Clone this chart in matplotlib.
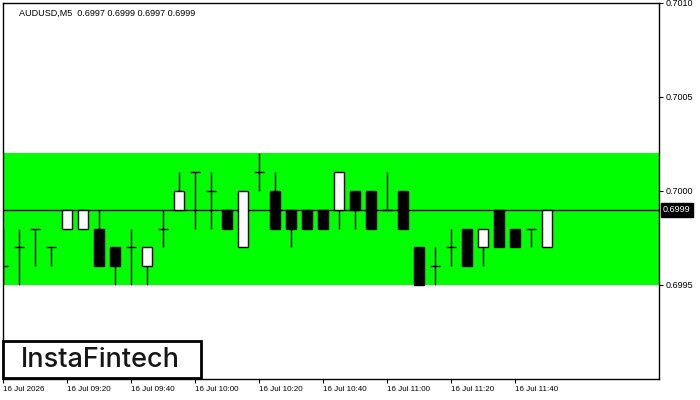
import matplotlib
matplotlib.use("Agg")
import matplotlib.pyplot as plt
import matplotlib.transforms as mtransforms
from matplotlib.patches import Rectangle

# AUDUSD M5 candles
opens = [0.6996, 0.6997, 0.6998, 0.6997, 0.6998, 0.6998, 0.6998, 0.6997, 0.6997, 0.6996,
         0.6998, 0.6999, 0.7001, 0.7000, 0.6999, 0.6997, 0.7001, 0.7000, 0.6999, 0.6999,
         0.6999, 0.6999, 0.7000, 0.7000, 0.6999, 0.7000, 0.6997, 0.6996, 0.6997, 0.6998,
         0.6997, 0.6999, 0.6998, 0.6998, 0.6997]
highs = [0.6998, 0.6998, 0.6998, 0.6997, 0.6999, 0.6999, 0.6999, 0.6997, 0.6998, 0.6997,
         0.6999, 0.7001, 0.7001, 0.7001, 0.6999, 0.7000, 0.7002, 0.7001, 0.6999, 0.6999,
         0.6999, 0.7001, 0.7000, 0.7000, 0.7001, 0.7000, 0.6997, 0.6997, 0.6998, 0.6998,
         0.6998, 0.6999, 0.6998, 0.6998, 0.6999]
lows = [0.6995, 0.6995, 0.6996, 0.6996, 0.6998, 0.6998, 0.6996, 0.6995, 0.6995, 0.6995,
        0.6997, 0.6999, 0.6998, 0.6998, 0.6998, 0.6997, 0.7000, 0.6998, 0.6997, 0.6998,
        0.6998, 0.6998, 0.6998, 0.6998, 0.6999, 0.6998, 0.6995, 0.6995, 0.6996, 0.6996,
        0.6996, 0.6997, 0.6997, 0.6997, 0.6997]
closes = [0.6996, 0.6997, 0.6998, 0.6997, 0.6999, 0.6999, 0.6996, 0.6996, 0.6997, 0.6997,
          0.6998, 0.7000, 0.7001, 0.7000, 0.6998, 0.7000, 0.7001, 0.6998, 0.6998, 0.6998,
          0.6998, 0.7001, 0.6999, 0.6998, 0.6999, 0.6998, 0.6995, 0.6996, 0.6997, 0.6996,
          0.6998, 0.6997, 0.6997, 0.6998, 0.6999]

zone_low = 0.6995
zone_high = 0.7002
last_price = 0.6999

y_ticks = [0.6995, 0.7000, 0.7005, 0.7010]
x_tick_idx = [0, 4, 8, 12, 16, 20, 24, 28, 32]
x_tick_labels = ["16 Jul 2026", "16 Jul 09:20", "16 Jul 09:40", "16 Jul 10:00",
                 "16 Jul 10:20", "16 Jul 10:40", "16 Jul 11:00", "16 Jul 11:20",
                 "16 Jul 11:40"]

plt.rcParams['font.family'] = ['Liberation Sans', 'DejaVu Sans']

fig = plt.figure(figsize=(7, 4), dpi=100)
ax = fig.add_axes([3 / 700, 21 / 400, 656 / 700, 376 / 400])
ax.set_xlim(0, 41)
ax.set_ylim(0.6990, 0.7010)

# green zone and current price line
ax.axhspan(zone_low, zone_high, color='#00ff00', lw=0, zorder=0)
ax.axhline(last_price, color='black', lw=1.0, zorder=1)

bw = 0.625
for i, (o, h, l, c) in enumerate(zip(opens, highs, lows, closes)):
    ax.vlines(i, l, h, color='black', lw=1.0, zorder=2)
    if o == c:
        ax.hlines(o, i - bw / 2, i + bw / 2, color='black', lw=1.0, zorder=3)
    else:
        face = 'white' if c > o else 'black'
        ax.add_patch(Rectangle((i - bw / 2, min(o, c)), bw, abs(c - o),
                               facecolor=face, edgecolor='black', lw=1.0, zorder=3))

ax.yaxis.tick_right()
ax.set_yticks(y_ticks)
ax.set_yticklabels([f"{v:.4f}" for v in y_ticks])
ax.set_xticks(x_tick_idx)
ax.set_xticklabels(x_tick_labels, ha='left')
ax.tick_params(axis='y', length=3, width=0.8, labelsize=6.5, pad=2)
ax.tick_params(axis='x', length=3, width=0.8, labelsize=5.8, pad=2)
for sp in ax.spines.values():
    sp.set_linewidth(1.0)

# current price tag on the axis
trans = mtransforms.blended_transform_factory(ax.transAxes, ax.transData)
ax.text(1.006, last_price, f"{last_price:.4f}", transform=trans, color='white',
        fontsize=6.5, va='center', ha='left', clip_on=False,
        bbox=dict(boxstyle='square,pad=0.25', facecolor='black', edgecolor='black'))

# header
ax.text(0.024, 0.985, "AUDUSD,M5  0.6997 0.6999 0.6997 0.6999", transform=ax.transAxes,
        fontsize=6.5, va='top', ha='left')

# logo box
fig.patches.append(Rectangle((3 / 700, 22 / 400), 198 / 700, 37 / 400, transform=fig.transFigure,
                             facecolor='white', edgecolor='black', lw=2, zorder=5))
fig.text(100 / 700, 40 / 400, "InstaFintech", fontsize=19.5, family=['Inter', 'DejaVu Sans'],
         fontweight='medium', color='#161616', ha='center', va='center', zorder=6)

fig.savefig("out.png", dpi=100)
